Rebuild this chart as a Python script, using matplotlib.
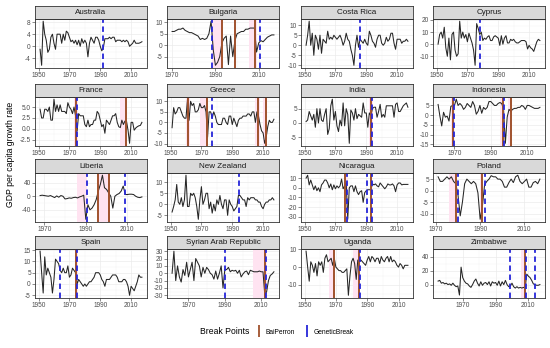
import numpy as np
import matplotlib
matplotlib.use("Agg")
import matplotlib.pyplot as plt
from matplotlib.lines import Line2D

plt.rcParams['font.family'] = ['Liberation Sans', 'DejaVu Sans']

# growth series, one list per country (first year given separately)
australia_start = 1951
australia = [-1, -6.3, 8.3, 4, 2, -2, -1, 3, 4, 1,
             -1, 4, 4, 4, 1, 4, 2, 5, 4.5, 3,
             1.5, 2, 1, 2, 0.5, 2, 0, 2.5, 1, 2,
             1, -3.5, 1, 3, 2, 1, 3, 3, 2, 0,
             -1.5, -0.5, 2.5, 2.5, 2.5, 3, 2.5, 3, 3, 1.5,
             2, 2, 2, 1.5, 2, 1.5, 2, 1.5, 0, 0.5,
             1, 2, 1, 1, 1, 1.2, 1.5]
bulgaria_start = 1970
bulgaria = [6, 6, 6.5, 7, 7, 7.5, 6.5, 6, 5.5, 5.5,
            5, 4.5, 4, 2.5, 3, 2.5, 3, 5, 10.5, -2,
            -8.8, -7.5, -5, 1, 3, 4, -8.5, 4, -5, 2,
            5, 5.5, 6, 6, 7, 7, 7.5, 7.5, 7.5, -3,
            1, 2, 1.5, 2.5, 3.5, 4, 4.5, 4.5]
costa_rica_start = 1951
costa_rica = [0, 5, 12, 0, 6, -5, 5, 3, -2, 5,
              -4, 3, 2, 1, 7, 3, 4, 3, 5, 4,
              3, 4, 5, 3, 0, 2, 6, 3, 2, -2,
              -5, -10, 0, 5, -1, 3, 2, 1, 3, 1,
              0, 7, 5, 2, 1, -1, 3, 5, 5, 1,
              0, 1, 4, 2, 3, 6, 6, 1, -2, 3,
              3, 3, 1, 2, 2, 3, 2]
cyprus_start = 1951
cyprus = [0, 8, 10, 5, 14, -3, -10, 5, -13, 8,
          10, -5, -10, -8, 19, 5, 10, 5, 8, 2,
          9, 5, 1, -5, -17.5, 17, 13, 8, 10, 3,
          5, 4, 6, 7, 3, 3, 6, 7, 6, 5,
          -1, 7, 0, 5, 7, 1, 1, 4, 3, 4,
          2, 1, 1, 2, 3, 3, 3, 2, -4, -1,
          -3, -4, -6, -2, 2, 4, 3]
france_start = 1951
france = [4.5, 2.5, 2.5, 4.5, 4.5, 4, 5, 2, 2, 6.8,
          4, 5.5, 4, 5.5, 4, 4, 4, 3.5, 6, 5,
          4.5, 3.5, 5, 3, -0.5, 3.5, 3, 3, 3, 1,
          0.5, 2, 0.5, 1, 1, 2, 2, 4, 3.5, 2,
          0.5, 1, -1, 2, 1.5, 1, 2, 3, 3, 3.5,
          1.5, 0.5, 0.3, 2, 1, 1.8, 1.8, -0.3, -3.3, 1.5,
          1.5, -0.3, 0.2, 0.5, 0.7, 0.8, 1.5]
greece_start = 1951
greece = [-2.5, 7, 4, 5, 7, 7, 5, 3, 2, 2,
          11, 1, 10, 8, 9, 5, 5, 6, 9, 7,
          7, 8, 5, -7, 5, 5, 2, 5, 3, 0,
          -1, -1, -1, 2, 2, 0, -1, 3, 3, -1,
          2, 0, -2, 1, 2, 2, 3, 3, 3, 4,
          4, 3, 5, 5, 0, 5, 3, -1, -4, -5,
          -9.9, -7, -2, 1, 0, 0, 1.5]
india_start = 1951
india = [0.5, 1, 4, 2.5, 1, 3, -1.5, 5, 0, 5,
         1, 0.5, 3, 5, -4, -2, 6, 8.3, 1, 4,
         -1, -3, 1, -1, 7, -1, 5, 3, -7.1, 4.5,
         3.5, 1, 5, 1.5, 3, 2.5, 2, 7, 3.5, 3.5,
         -1.5, 3.5, 2.5, 5, 5.5, 5.5, 2, 4, 6.5, 2,
         3, 2, 6, 6, 6, 6, 6, 2, 6.5, 7,
         4, 4, 5, 6, 6.5, 7, 5.5]
indonesia_start = 1961
indonesia = [5.5, -0.5, -5.5, 1.5, -1, -0.5, -3, 4.5, 5, 5,
             8.2, 5, 6, 5, 3, 4, 6, 5, 4, 7,
             5, 0.5, 2, 5, 1, 4, 3, 4, 7, 7,
             6, 5, 5, 6, 6.5, 6, 3, -14.4, -1, 3,
             2, 3, 3.5, 3.5, 4, 4, 5, 4.5, 3, 5,
             5, 4.5, 4, 3.5, 3.5, 3.5, 4]
liberia_start = 1968
liberia = [2, 3, 2, 1, 0, 2, -1, -4, 1, -3,
           2, 0, -8, -7, -5, -6, -4, -3, -5, -2,
           0, 3, -68, -25, -40, -35, -25, -10, 15, 35,
           62, 25, 20, 10, 0, -35, 0, 5, 8, 15,
           30, 5, 5, 6, 6, 5, 0, -3, -4, -2]
new_zealand_start = 1951
new_zealand = [-3.5, -1, 2, 9, 1, 0, 3, -1, 2, 13.2,
               -1, -1, 5, 4, 5, 3, -1, -6.8, 2, 8,
               0, 2, 5, 5, -2, 1, -4, 0, -3, 2,
               0, 4, 0, -2, 2, 2, -5, 2, 0, -1,
               -3, -2, -1, 4, 4, 3, 2, 2, -1, 3,
               2, 3, 3, 3, 2, 2, 1, 1, -1, -2,
               0, 1, 1, 2, 2, 3, 2]
nicaragua_start = 1951
nicaragua = [10, 13, 3, 8, 3, -2, 2, -3, 0, -4,
             3, 5, 8, 8, 5, 0, 4, -2, 3, -1,
             2, 0, 2, 9, -1, 2, 5, -32.5, 0, 2,
             2, -4, 2, -4, -7, -4, -3, -15, -5, -3,
             -2, -2, -2, 4, 3, 4, 2, 1, 5, 3,
             1, -1, 1, 4, 3, 3, 4, 2, -4, 3,
             5, 5, 3, 3.5, 3.5, 3.5, 3.5]
poland_start = 1971
poland = [6, 4, 4, 5, 6, 5, 6, 4, 3, -2,
          -11, -5, 3, 5, 4, 3, 4, 3, -1, -12.5,
          -7, 2.5, 4, 5, 6.5, 6, 6, 5, 5, 4,
          1.5, 1.5, 3.5, 5, 3.5, 6, 6.7, 4, 3, 4,
          5, 1.5, 1.5, 3.5, 4, 3, 5]
spain_start = 1951
spain = [14.5, 5, -4, 12, 4, 7, 5, 3, -4, 2,
         11, 10, 9, 6, 5, 7, 5, 5, 8, 3,
         4, 7, 6, 5, 0, 2, 1, 0, -1, 0,
         -1, 0, 1, 1, 2, 3, 5, 5, 5, 4,
         2, 1, -1, 2, 2, 2, 3, 4, 4, 4,
         3, 1, 1, 1, 2, 2, 1, -1, -5, -1,
         -2, -3, -1, 1, 4, 3, 3]
syria_start = 1961
syria = [0, 30, -10, 10, -5, -12, 5, -3, 15, -5,
         5, 15, -10, 20, 15, 10, -5, 8, 0, 8,
         5, 0, -2, -8, 3, -8, 0, 10, -20, 5,
         5, 8, 2, 4, 3, 4, 0, 4, -5, -1,
         2, 3, -2, 4, 3, 2, 2, 2, 3, 2,
         2, -30, -25, -10, -3, -1, 2]
uganda_start = 1951
uganda = [9, 0, -8, 3, 1, -3, 2, -5, 3, 1,
          3, -3, 5, 7, 3, 4, 5, 1, 5, 0,
          -1, -2, -2, -3, -3, -2, -1, -16, -5, 3,
          5, 2, -7, 4, 3, 4, 3, 2, 1, 4,
          6, 3, 6, 5, 3, 5, 5, 2, 6, 4,
          3, 5, 6, 3, 6, 3, 4, 3, 1, 0,
          2, 1, -1, 1, 1, 1]
zimbabwe_start = 1955
zimbabwe = [5, 6, 2, 3, 1, 2, 0, 1, -1, 2,
            -1, -3, -2, -15, 25, 10, 5, 2, 1, -2,
            -4, 0, 5, 8, 2, -2, 4, -1, 2, 3,
            0, 4, -2, 4, 2, 3, -1, 5, -2, 4,
            0, 6, 0, -3, -2, 2, -3, -5, -3, -5,
            -4, -5, -4, -5, 15, 12, 10, 6, 1, 0,
            -1, -1, 0]

# break points (BaiPerron, GeneticBreak) and BaiPerron confidence intervals
australia_bp, australia_gb, australia_ci = [], [1991.5], []
bulgaria_bp, bulgaria_gb, bulgaria_ci = [1993, 1999, 2008.5], [1988.5, 2010.5], [(1988.5, 1993), (1998.5, 1999.5), (2005.5, 2009)]
costa_rica_bp, costa_rica_gb, costa_rica_ci = [], [1985.8], []
cyprus_bp, cyprus_gb, cyprus_ci = [], [1978], []
france_bp, france_gb, france_ci = [1974, 2007], [1975], [(1973, 1975.5), (2003, 2007.5)]
greece_bp, greece_gb, greece_ci = [1961.5, 1973.5, 2007, 2012], [1977], [(1960, 1962.5), (1969, 1974), (2005, 2008), (2010, 2012.5)]
india_bp, india_gb, india_ci = [1993], [1993.6], [(1992, 1994.5)]
indonesia_bp, indonesia_gb, indonesia_ci = [1969, 1996.5, 2001], [1970, 1997], [(1968, 1970), (1995, 1997.5), (1999.5, 2001)]
liberia_bp, liberia_gb, liberia_ci = [1996, 2001], [1990.5, 2009], [(1986, 1990.5), (1995.5, 2001.5)]
new_zealand_bp, new_zealand_gb, new_zealand_ci = [], [1994.5], []
nicaragua_bp, nicaragua_gb, nicaragua_ci = [1976.5, 1993], [1977.5, 1990.5, 1993.6], [(1976, 1978), (1992.5, 1994)]
poland_bp, poland_gb, poland_ci = [1979, 1991], [1980.2, 1992], [(1976, 1979.4), (1990, 1991.5)]
spain_bp, spain_gb, spain_ci = [1974.5], [1964, 1975], [(1973.5, 1975.5)]
syria_bp, syria_gb, syria_ci = [2012], [1990, 2012.4], [(2005.5, 2013)]
uganda_bp, uganda_gb, uganda_ci = [1969, 1985], [1985.6], [(1965.5, 1969.5), (1981, 1985.5)]
zimbabwe_bp, zimbabwe_gb, zimbabwe_ci = [2008], [1999, 2008.4, 2014], [(2005.5, 2008.5)]

names = ["Australia", "Bulgaria", "Costa Rica", "Cyprus",
         "France", "Greece", "India", "Indonesia",
         "Liberia", "New Zealand", "Nicaragua", "Poland",
         "Spain", "Syrian Arab Republic", "Uganda", "Zimbabwe"]
starts = [australia_start, bulgaria_start, costa_rica_start, cyprus_start,
          france_start, greece_start, india_start, indonesia_start,
          liberia_start, new_zealand_start, nicaragua_start, poland_start,
          spain_start, syria_start, uganda_start, zimbabwe_start]
series = [australia, bulgaria, costa_rica, cyprus, france, greece, india, indonesia,
          liberia, new_zealand, nicaragua, poland, spain, syria, uganda, zimbabwe]
bps = [australia_bp, bulgaria_bp, costa_rica_bp, cyprus_bp, france_bp, greece_bp, india_bp, indonesia_bp,
       liberia_bp, new_zealand_bp, nicaragua_bp, poland_bp, spain_bp, syria_bp, uganda_bp, zimbabwe_bp]
gbs = [australia_gb, bulgaria_gb, costa_rica_gb, cyprus_gb, france_gb, greece_gb, india_gb, indonesia_gb,
       liberia_gb, new_zealand_gb, nicaragua_gb, poland_gb, spain_gb, syria_gb, uganda_gb, zimbabwe_gb]
cis = [australia_ci, bulgaria_ci, costa_rica_ci, cyprus_ci, france_ci, greece_ci, india_ci, indonesia_ci,
       liberia_ci, new_zealand_ci, nicaragua_ci, poland_ci, spain_ci, syria_ci, uganda_ci, zimbabwe_ci]
yticks = [[-4, 0, 4, 8], [-5, 0, 5, 10], [-10, -5, 0, 5, 10], [-10, 0, 10, 20],
          [-2.5, 0, 2.5, 5], [-10, -5, 0, 5, 10], [-5, 0, 5], [-15, -10, -5, 0, 5],
          [-40, 0, 40], [-5, 0, 5, 10], [-30, -20, -10, 0, 10], [-10, -5, 0, 5],
          [-5, 0, 5, 10, 15], [-30, -20, -10, 0, 10, 20, 30], [-10, 0, 10], [0, 20, 40]]
ytick_fmt = ["{:g}"] * 4 + ["{:.1f}"] + ["{:g}"] * 11
zimbabwe_ylim = (-18.5, 51)

BP_COLOR = "#A0522D"
GB_COLOR = "#2626D9"
CI_COLOR = "#FFE3F1"

W, H = 550, 348
fig = plt.figure(figsize=(W / 100, H / 100), dpi=100)

col_left = [35, 167, 301, 433]
row_top = [19, 97, 173, 249]
pw, ph, sh = 112, 48.5, 13.5

for i, name in enumerate(names):
    r, c = divmod(i, 4)
    x0, y0 = col_left[c], row_top[r]
    ax = fig.add_axes([x0 / W, 1 - (y0 + ph) / H, pw / W, ph / H])
    sax = fig.add_axes([x0 / W, 1 - y0 / H, pw / W, sh / H])

    vals = np.array(series[i], dtype=float)
    years = np.arange(starts[i], starts[i] + len(vals))
    xr = years[-1] - years[0]
    ax.set_xlim(years[0] - 0.05 * xr, years[-1] + 0.05 * xr)
    if name == "Zimbabwe":
        ax.set_ylim(*zimbabwe_ylim)
    else:
        yr = vals.max() - vals.min()
        ax.set_ylim(vals.min() - 0.05 * yr, vals.max() + 0.05 * yr)

    for a, b in cis[i]:
        ax.axvspan(a, b, color=CI_COLOR, lw=0, zorder=1)
    ax.plot(years, vals, color="#262626", lw=0.75, zorder=2)
    for b in bps[i]:
        ax.axvline(b, color=BP_COLOR, lw=1.4, zorder=3)
    for g in gbs[i]:
        ax.axvline(g, color=GB_COLOR, lw=1.3, ls=(0, (3, 2)), zorder=4)

    lo, hi = ax.get_xlim()
    ax.set_xticks([t for t in [1950, 1970, 1990, 2010] if lo <= t <= hi])
    ax.set_xticks([t for t in [1960, 1980, 2000, 2020] if lo <= t <= hi], minor=True)
    yt = yticks[i]
    ax.set_yticks(yt)
    ax.set_yticklabels([ytick_fmt[i].format(v) for v in yt])
    step = yt[1] - yt[0]
    ylo, yhi = ax.get_ylim()
    ax.set_yticks([v for v in np.arange(yt[0] - step / 2, yhi, step) if ylo <= v <= yhi], minor=True)
    ax.grid(which="major", color="#EBEBEB", lw=0.5)
    ax.grid(which="minor", color="#F2F2F2", lw=0.3)
    ax.set_axisbelow(True)
    ax.tick_params(which="major", length=2, width=0.4, color="#333333",
                   labelsize=4.7, labelcolor="#4D4D4D", pad=1)
    ax.tick_params(which="minor", length=0)
    for s in ax.spines.values():
        s.set_color("#333333")
        s.set_linewidth(0.6)

    sax.set_facecolor("#D9D9D9")
    sax.set_xticks([])
    sax.set_yticks([])
    for s in sax.spines.values():
        s.set_color("#333333")
        s.set_linewidth(0.6)
    sax.text(0.5, 0.5, name, ha="center", va="center", fontsize=5.8,
             color="#1A1A1A", transform=sax.transAxes)

fig.text(11 / W, 1 - 154 / H, "GDP per capita growth rate", rotation=90,
         ha="center", va="center", fontsize=6.2)

fig.text(200 / W, 1 - 332 / H, "Break Points", fontsize=6.2, va="center")
handles = [Line2D([], [], color=BP_COLOR, marker="|", ls="None", markersize=9, markeredgewidth=1.3),
           Line2D([], [], color=GB_COLOR, marker="|", ls="None", markersize=9, markeredgewidth=1.3)]
fig.legend(handles, ["BaiPerron", "GeneticBreak"], loc="center left",
           bbox_to_anchor=(250 / W, 1 - 332 / H), ncol=2, frameon=False,
           fontsize=4.8, handlelength=1.0, handletextpad=0.5, columnspacing=1.2)

fig.savefig("out.png", dpi=100)
